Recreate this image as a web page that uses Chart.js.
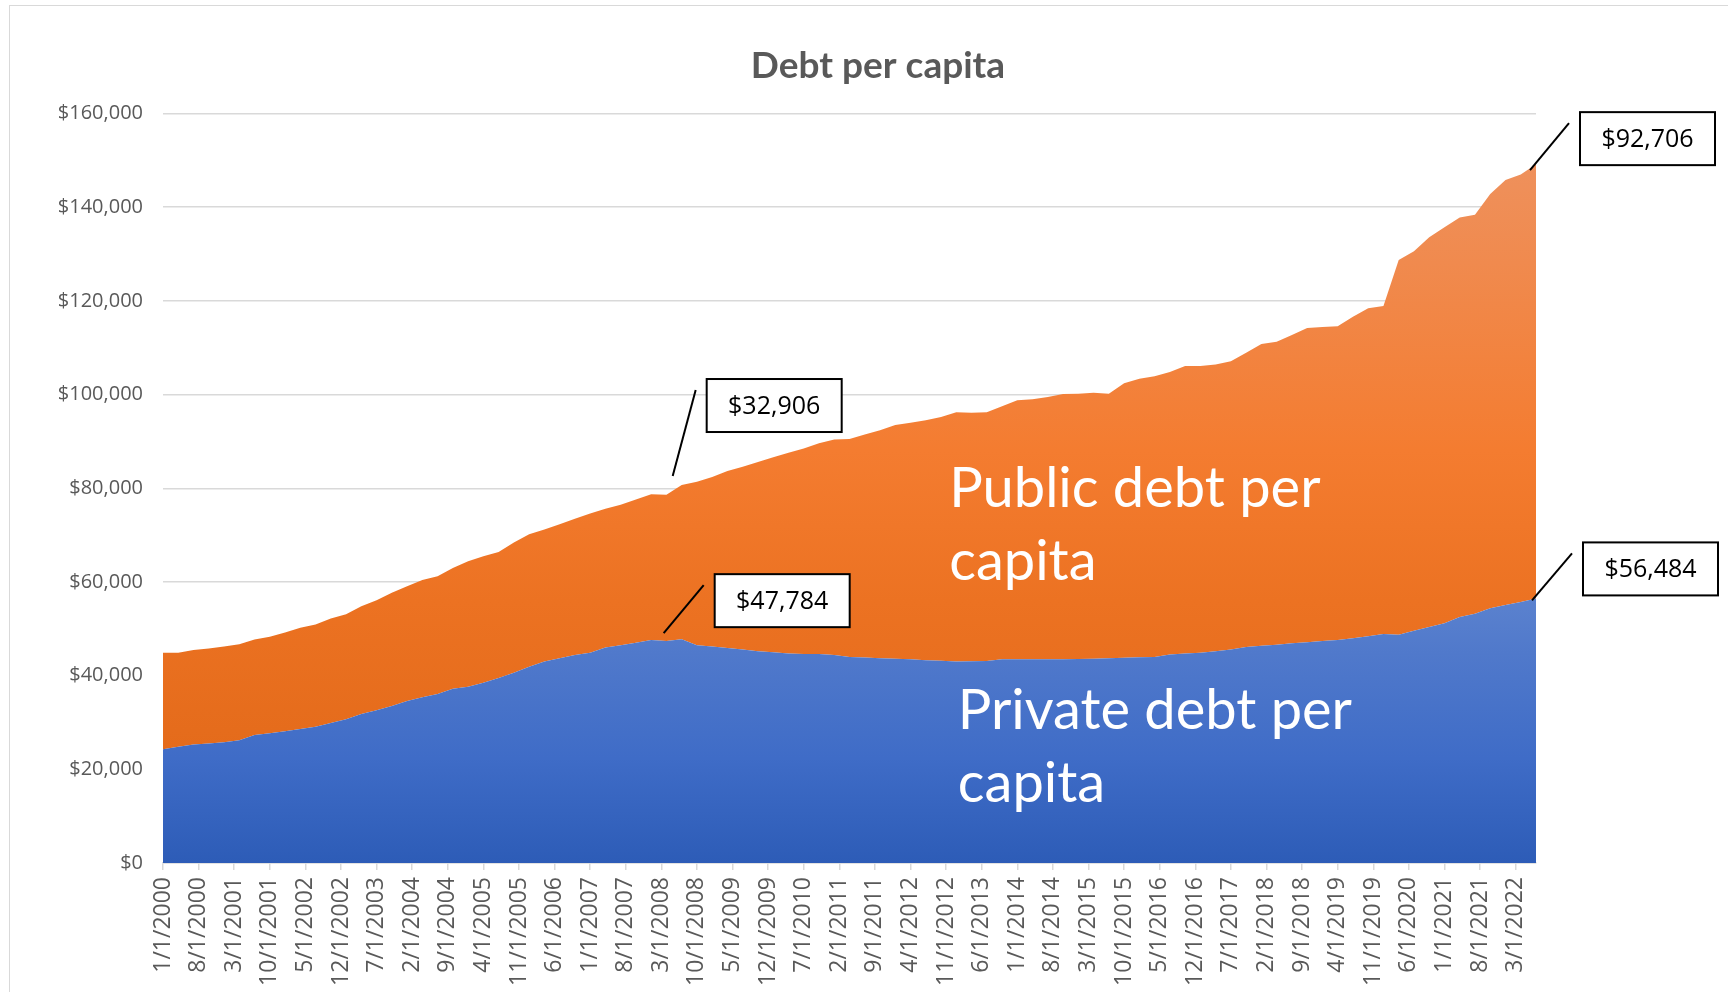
<!DOCTYPE html>
<html lang="en">
<head>
<meta charset="utf-8">
<title>Debt per capita</title>
<script src="https://cdn.jsdelivr.net/npm/chart.js@4.4.1/dist/chart.umd.min.js"></script>
<style>
  html, body { margin: 0; padding: 0; background: #fff; overflow: hidden; }
  #frame { position: absolute; left: 9px; top: 5px; width: 1800px; height: 1100px; border: 1px solid #d9d9d9; }
  #wrap { position: absolute; left: 0; top: 0; width: 1728px; height: 992px; }
</style>
</head>
<body>
<div id="frame"></div>
<div id="wrap"><canvas id="debtChart"></canvas></div>
<script>
// quarterly observations, Q1 2000 - Q3 2022
const quarters = [
  '1/1/2000', '4/1/2000', '7/1/2000', '10/1/2000',
  '1/1/2001', '4/1/2001', '7/1/2001', '10/1/2001',
  '1/1/2002', '4/1/2002', '7/1/2002', '10/1/2002',
  '1/1/2003', '4/1/2003', '7/1/2003', '10/1/2003',
  '1/1/2004', '4/1/2004', '7/1/2004', '10/1/2004',
  '1/1/2005', '4/1/2005', '7/1/2005', '10/1/2005',
  '1/1/2006', '4/1/2006', '7/1/2006', '10/1/2006',
  '1/1/2007', '4/1/2007', '7/1/2007', '10/1/2007',
  '1/1/2008', '4/1/2008', '7/1/2008', '10/1/2008',
  '1/1/2009', '4/1/2009', '7/1/2009', '10/1/2009',
  '1/1/2010', '4/1/2010', '7/1/2010', '10/1/2010',
  '1/1/2011', '4/1/2011', '7/1/2011', '10/1/2011',
  '1/1/2012', '4/1/2012', '7/1/2012', '10/1/2012',
  '1/1/2013', '4/1/2013', '7/1/2013', '10/1/2013',
  '1/1/2014', '4/1/2014', '7/1/2014', '10/1/2014',
  '1/1/2015', '4/1/2015', '7/1/2015', '10/1/2015',
  '1/1/2016', '4/1/2016', '7/1/2016', '10/1/2016',
  '1/1/2017', '4/1/2017', '7/1/2017', '10/1/2017',
  '1/1/2018', '4/1/2018', '7/1/2018', '10/1/2018',
  '1/1/2019', '4/1/2019', '7/1/2019', '10/1/2019',
  '1/1/2020', '4/1/2020', '7/1/2020', '10/1/2020',
  '1/1/2021', '4/1/2021', '7/1/2021', '10/1/2021',
  '1/1/2022', '4/1/2022', '7/1/2022'
];

const privateDebt = [
  24300, 24800, 25300, 25500,
  25800, 26200, 27300, 27700,
  28100, 28600, 29100, 29900,
  30700, 31800, 32600, 33500,
  34600, 35400, 36100, 37200,
  37600, 38500, 39500, 40600,
  41900, 43000, 43700, 44400,
  44900, 46000, 46500, 47000,
  47600, 47400, 47784, 46500,
  46200, 45900, 45600, 45200,
  45000, 44700, 44600, 44600,
  44400, 44000, 43850, 43700,
  43600, 43500, 43300, 43200,
  43000, 43050, 43100, 43500,
  43500, 43500, 43500, 43500,
  43550, 43600, 43700, 43800,
  43900, 44000, 44500, 44700,
  44900, 45200, 45600, 46100,
  46400, 46600, 46900, 47100,
  47400, 47600, 48000, 48400,
  48900, 48700, 49600, 50400,
  51200, 52500, 53200, 54400,
  55100, 55700, 56484
];

const publicDebt = [
  20600, 20100, 20150, 20300,
  20400, 20500, 20400, 20600,
  21100, 21600, 21800, 22300,
  22400, 23000, 23500, 24200,
  24500, 25000, 25100, 25800,
  26800, 27000, 26900, 27800,
  28300, 28200, 28600, 29100,
  29700, 29600, 30000, 30600,
  31100, 31200, 32906, 34900,
  36200, 37800, 39000, 40400,
  41600, 42900, 43900, 45000,
  46000, 46500, 47650, 48700,
  49900, 50500, 51200, 52000,
  53200, 53050, 53100, 54000,
  55300, 55500, 56000, 56600,
  56650, 56800, 56500, 58600,
  59500, 59900, 60300, 61400,
  61200, 61200, 61500, 62800,
  64400, 64700, 65800, 67100,
  67000, 67000, 68600, 70000,
  70000, 80000, 81000, 83200,
  84500, 85300, 85200, 88400,
  90700, 91300, 92706
];

const xTickLabels = [
  '1/1/2000', '8/1/2000', '3/1/2001', '10/1/2001', '5/1/2002', '12/1/2002', '7/1/2003',
  '2/1/2004', '9/1/2004', '4/1/2005', '11/1/2005', '6/1/2006', '1/1/2007', '8/1/2007',
  '3/1/2008', '10/1/2008', '5/1/2009', '12/1/2009', '7/1/2010', '2/1/2011', '9/1/2011',
  '4/1/2012', '11/1/2012', '6/1/2013', '1/1/2014', '8/1/2014', '3/1/2015', '10/1/2015',
  '5/1/2016', '12/1/2016', '7/1/2017', '2/1/2018', '9/1/2018', '4/1/2019', '11/1/2019',
  '6/1/2020', '1/1/2021', '8/1/2021', '3/1/2022'
];

const FONT = "Lato, 'Open Sans', sans-serif";
const TICK_FONT = "'Open Sans', Lato, sans-serif";

// months since Jan 2000, so the x axis behaves like a date axis
const monthIndex = d => {
  const [m, , y] = d.split('/').map(Number);
  return (y - 2000) * 12 + (m - 1);
};
const toPoints = arr => arr.map((v, i) => ({ x: monthIndex(quarters[i]), y: v }));

function vGradient(chart, stops) {
  const { ctx, chartArea } = chart;
  if (!chartArea) return null;
  const g = ctx.createLinearGradient(0, chartArea.top, 0, chartArea.bottom);
  stops.forEach(([p, c]) => g.addColorStop(p, c));
  return g;
}

// callouts hang off a data point; box / leader offsets in px
const callouts = [
  { ds: 1, idx: 90, box: [44, -52], lead: [-6, 6] },
  { ds: 0, idx: 90, box: [47, -56], lead: [-4, 2] },
  { ds: 1, idx: 34, box: [25, -106], lead: [-9, -9] },
  { ds: 0, idx: 34, box: [33, -65], lead: [-18, -6] }
];

// white series names written inside the areas (x in months, y in dollars)
const areaLabels = [
  { lines: ['Public debt per', 'capita'], x: 154.6, y: [76000, 60500] },
  { lines: ['Private debt per', 'capita'], x: 156.3, y: [28600, 13100] }
];

const titlePlugin = {
  id: 'chartTitle',
  afterDraw(chart) {
    const c = chart.ctx;
    c.save();
    c.font = `bold 37px ${FONT}`;
    c.fillStyle = '#595959';
    c.textAlign = 'center';
    c.textBaseline = 'middle';
    c.fillText('Debt per capita', 878, 66);
    c.restore();
  }
};

const areaLabelPlugin = {
  id: 'areaLabels',
  afterDatasetsDraw(chart) {
    const c = chart.ctx, xs = chart.scales.x, ys = chart.scales.y;
    c.save();
    c.font = `56px ${FONT}`;
    c.fillStyle = '#ffffff';
    c.textAlign = 'left';
    c.textBaseline = 'alphabetic';
    areaLabels.forEach(l => {
      l.lines.forEach((t, i) => c.fillText(t, xs.getPixelForValue(l.x), ys.getPixelForValue(l.y[i])));
    });
    c.restore();
  }
};

const calloutPlugin = {
  id: 'callouts',
  afterDraw(chart) {
    const c = chart.ctx;
    c.save();
    callouts.forEach(co => {
      const pt = chart.getDatasetMeta(co.ds).data[co.idx];
      const value = chart.data.datasets[co.ds].data[co.idx].y;
      const bx = pt.x + co.box[0], by = pt.y + co.box[1];
      const w = 135, h = 53;
      c.strokeStyle = '#000';
      c.lineWidth = 2;
      c.beginPath();
      c.moveTo(pt.x + co.lead[0], pt.y + co.lead[1]);
      c.lineTo(bx - 11, by + 11);
      c.stroke();
      c.fillStyle = '#fff';
      c.fillRect(bx, by, w, h);
      c.strokeRect(bx, by, w, h);
      c.fillStyle = '#000';
      c.font = `25px ${TICK_FONT}`;
      c.textAlign = 'center';
      c.textBaseline = 'middle';
      c.fillText('$' + value.toLocaleString('en-US'), bx + w / 2, by + h / 2 + 1);
    });
    c.restore();
  }
};

new Chart(document.getElementById('debtChart'), {
  type: 'line',
  data: {
    datasets: [
      {
        label: 'Private debt per capita',
        data: toPoints(privateDebt),
        fill: 'origin',
        borderWidth: 0,
        pointRadius: 0,
        backgroundColor: ctx => vGradient(ctx.chart, [
          [0, '#6b8fd6'], [0.62, '#5f85d0'], [0.72, '#5079cb'], [0.86, '#3f6cc7'], [1, '#2d5cb7']
        ])
      },
      {
        label: 'Public debt per capita',
        data: toPoints(publicDebt),
        fill: '-1',
        borderWidth: 0,
        pointRadius: 0,
        backgroundColor: ctx => vGradient(ctx.chart, [
          [0, '#ee9463'], [0.2, '#f08a4e'], [0.45, '#f47c30'], [0.65, '#ec7222'], [0.85, '#e46b1b'], [1, '#e06818']
        ])
      }
    ]
  },
  options: {
    responsive: true,
    maintainAspectRatio: false,
    animation: false,
    layout: { padding: { top: 113.5, right: 192, left: 0, bottom: 0 } },
    plugins: {
      legend: { display: false },
      title: { display: false },
      tooltip: { enabled: false }
    },
    scales: {
      x: {
        type: 'linear',
        min: 0,
        max: 270,
        afterBuildTicks: s => { s.ticks = xTickLabels.map(d => ({ value: monthIndex(d) })); },
        afterFit: s => { s.height = 129; },
        ticks: {
          autoSkip: false,
          maxRotation: 90,
          minRotation: 90,
          padding: 7,
          color: '#595959',
          font: { family: TICK_FONT, size: 23 },
          callback: (v, i) => xTickLabels[i]
        },
        grid: { drawOnChartArea: false, drawTicks: true, tickLength: 7, color: '#d9d9d9', lineWidth: 1.5 },
        border: { color: '#d9d9d9', width: 1.5 }
      },
      y: {
        stacked: true,
        min: 0,
        max: 160000,
        afterFit: s => { s.width = 163; },
        ticks: {
          stepSize: 20000,
          padding: 20,
          color: '#595959',
          font: { family: TICK_FONT, size: 20 },
          callback: v => '$' + v.toLocaleString('en-US')
        },
        grid: { color: '#d9d9d9', lineWidth: 1.5, drawTicks: false },
        border: { display: false }
      }
    }
  },
  plugins: [titlePlugin, areaLabelPlugin, calloutPlugin]
});
</script>
</body>
</html>
